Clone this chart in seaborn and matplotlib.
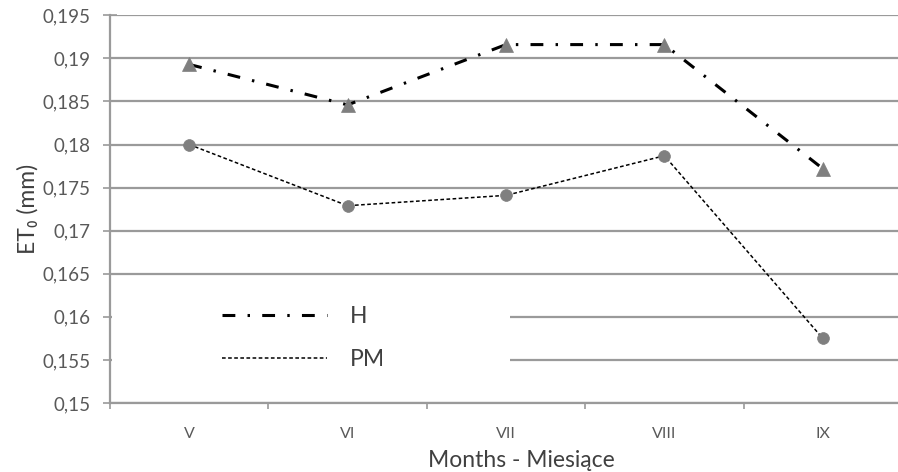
import matplotlib
matplotlib.use("Agg")
import matplotlib.pyplot as plt
from matplotlib.lines import Line2D
from matplotlib.patches import Rectangle
from matplotlib.ticker import FixedLocator, FuncFormatter
import pandas as pd
import seaborn as sns

# Monthly reference evapotranspiration, two estimation methods
months = ["V", "VI", "VII", "VIII", "IX"]
et0_h = [0.1893, 0.1846, 0.1916, 0.1916, 0.1772]
et0_pm = [0.1800, 0.1729, 0.1741, 0.1787, 0.1575]
series_labels = ["H", "PM"]
y_ticks = [0.150, 0.155, 0.160, 0.165, 0.170, 0.175, 0.180, 0.185, 0.190, 0.195]

sns.set_theme(style="white")
plt.rcParams["font.family"] = ["Lato", "DejaVu Sans"]

GRID = "#9a9a9a"
TICK_TXT = "#595959"
TITLE_TXT = "#404040"
MARK = "#7f7f7f"

fig = plt.figure(figsize=(8.98, 4.72), dpi=100)
ax = fig.add_axes([110 / 898, 69 / 472, 792 / 898, 387.7 / 472])

df_h = pd.DataFrame({"month": months, "et0": et0_h})
df_pm = pd.DataFrame({"month": months, "et0": et0_pm})

h_style = (0, (4.2, 4.0, 0.8, 4.0))
pm_style = (0, (2.4, 1.6))

sns.lineplot(data=df_h, x="month", y="et0", ax=ax, color="black", lw=2.2,
             linestyle=h_style, marker="^", markersize=10,
             markerfacecolor=MARK, markeredgecolor=MARK, markeredgewidth=0.5,
             errorbar=None, sort=False, zorder=4)
sns.lineplot(data=df_pm, x="month", y="et0", ax=ax, color="black", lw=1.1,
             linestyle=pm_style, marker="o", markersize=8.5,
             markerfacecolor=MARK, markeredgecolor=MARK, markeredgewidth=0.5,
             errorbar=None, sort=False, zorder=4)

ax.set_xlim(-0.5, len(months) - 0.5)
ax.set_ylim(y_ticks[0], y_ticks[-1])

# y axis: comma decimal labels, horizontal grid
ax.yaxis.set_major_locator(FixedLocator(y_ticks))
ax.yaxis.set_major_formatter(FuncFormatter(lambda v, _: ("%g" % round(v, 4)).replace(".", ",")))
ax.grid(axis="y", color=GRID, lw=1.6)
ax.set_axisbelow(True)

# x axis: labels at category centres, tick marks between categories
ax.set_xticks(range(len(months)))
ax.set_xticklabels(months)
ax.set_xticks([i - 0.5 for i in range(len(months) + 1)], minor=True)
ax.tick_params(axis="x", which="major", length=0, pad=17, labelsize=11.5, labelcolor=TICK_TXT)
ax.tick_params(axis="x", which="minor", length=4.5, width=1.2, color=GRID, direction="out", bottom=True)
ax.tick_params(axis="y", which="major", length=10, width=1.2, color=GRID, direction="inout",
               left=True, pad=9, labelsize=13.5, labelcolor=TICK_TXT)

for side in ["top", "right"]:
    ax.spines[side].set_visible(False)
for side in ["left", "bottom"]:
    ax.spines[side].set_color(GRID)
    ax.spines[side].set_linewidth(1.6)

ax.set_xlabel("Months - Miesiące", fontsize=16.5, color=TITLE_TXT)
ax.xaxis.set_label_coords(0.52, -0.12)
ax.set_ylabel("ET₀ (mm)", fontsize=16.5, color=TITLE_TXT)
ax.yaxis.set_label_coords(-0.09, 0.5)

# white legend area covering the lower-left grid lines
ax.add_patch(Rectangle((0.003, 0.02), 0.502, 0.285, transform=ax.transAxes,
                       facecolor="white", edgecolor="none", zorder=1.5))

handles = [Line2D([], [], color="black", lw=2.2, linestyle=h_style),
           Line2D([], [], color="black", lw=1.1, linestyle=pm_style)]
leg = ax.legend(handles, series_labels, loc="center left", bbox_to_anchor=(0.141, 0.168),
                frameon=False, fontsize=16.5, handlelength=4.6, handletextpad=1.0,
                labelspacing=0.95, borderpad=0, borderaxespad=0)
for t in leg.get_texts():
    t.set_color(TITLE_TXT)

fig.savefig("out.png", dpi=100)
